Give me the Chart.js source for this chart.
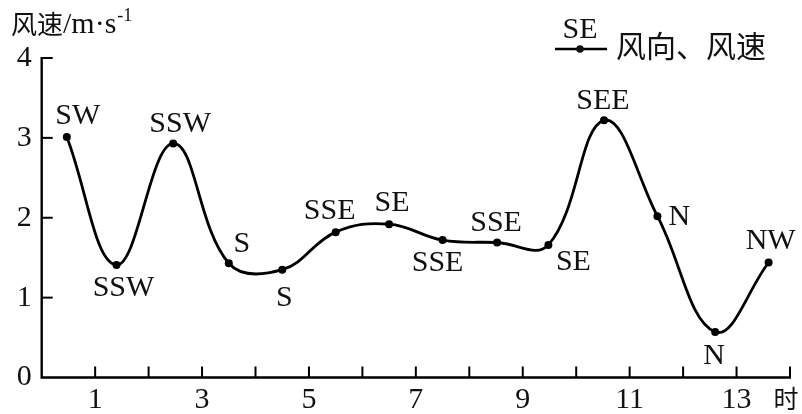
<!DOCTYPE html>
<html><head><meta charset="utf-8">
<script src="https://cdn.jsdelivr.net/npm/chart.js@4.4.1/dist/chart.umd.min.js"></script>
<style>html,body{margin:0;padding:0;background:#fff}#wrap{width:802px;height:414px}</style>
</head><body><div id="wrap"><canvas id="c" width="802" height="414"></canvas></div>
<script>
const hours = [0.47, 1.4, 2.46, 3.5, 4.5, 5.5, 6.5, 7.5, 8.52, 9.48, 10.52, 11.52, 12.6, 13.6];
const speeds = [3.01, 1.41, 2.93, 1.43, 1.35, 1.82, 1.92, 1.72, 1.69, 1.66, 3.22, 2.02, 0.57, 1.44];
const directions = ['SW','SSW','SSW','S','S','SSE','SE','SSE','SSE','SE','SEE','N','N','NW'];
const xTickLabels = [1, 3, 5, 7, 9, 11, 13];
const yTickLabels = [0, 1, 2, 3, 4];
const xUnit = '时';
const legendText = '风向、风速';

// label placement (text centre offset from point, px)
const labelOffsets = [[11,-22],[7,22],[7,-20],[13,-20],[2,27],[-6,-22],[3,-22],[-5,22],[-1,-20],[25,16],[-1,-20],[22,0],[-1,23],[2,-22]];

const SERIF = '"Liberation Serif", "DejaVu Serif", serif';
const CJK = '"Noto Sans CJK SC", sans-serif';

const decor = {
  id: 'decor',
  afterDraw(chart) {
    const ctx = chart.ctx;
    const xs = chart.scales.x, ys = chart.scales.y;
    const L = xs.left, R = xs.right, B = ys.bottom, T = ys.top;
    ctx.save();
    ctx.strokeStyle = '#000'; ctx.lineWidth = 2.4; ctx.lineCap = 'butt';
    ctx.beginPath();
    ctx.moveTo(L, T - 1); ctx.lineTo(L, B); ctx.lineTo(R + 1, B);
    ctx.stroke();
    // inward ticks
    ctx.lineWidth = 2;
    for (let v = 1; v <= 14; v++) {
      const px = xs.getPixelForValue(v);
      ctx.beginPath(); ctx.moveTo(px, B); ctx.lineTo(px, B - 11); ctx.stroke();
    }
    for (let v = 1; v <= 4; v++) {
      const py = ys.getPixelForValue(v);
      ctx.beginPath(); ctx.moveTo(L, py); ctx.lineTo(L + 11, py); ctx.stroke();
    }
    // direction labels
    const meta = chart.getDatasetMeta(0);
    ctx.fillStyle = '#111';
    ctx.font = '30px ' + SERIF;
    ctx.textAlign = 'center'; ctx.textBaseline = 'middle';
    meta.data.forEach((pt, i) => {
      const o = labelOffsets[i];
      ctx.fillText(directions[i], pt.x + o[0], pt.y + o[1] + 1);
    });
    // x unit
    ctx.font = '25px ' + CJK;
    ctx.fillText(xUnit, xs.getPixelForValue(14) - 4, 398);
    // y title
    ctx.textAlign = 'left'; ctx.textBaseline = 'alphabetic';
    ctx.font = '26px ' + CJK;
    ctx.fillText('风速', 11, 34);
    let x = 11 + ctx.measureText('风速').width;
    ctx.font = '30px ' + SERIF;
    ctx.fillText('/m·s', x, 33);
    x += ctx.measureText('/m·s').width + 1;
    ctx.font = '18px ' + SERIF;
    ctx.fillText('-1', x, 21);
    // legend
    ctx.lineWidth = 2.4;
    ctx.beginPath(); ctx.moveTo(555, 49); ctx.lineTo(607, 49); ctx.stroke();
    ctx.beginPath(); ctx.arc(580, 49, 3.8, 0, Math.PI * 2); ctx.fill();
    ctx.textAlign = 'center'; ctx.textBaseline = 'middle';
    ctx.font = '30px ' + SERIF;
    ctx.fillText('SE', 580, 30);
    ctx.textAlign = 'left';
    ctx.font = '30px ' + CJK;
    ctx.fillText(legendText, 616, 46);
    ctx.restore();
  }
};

new Chart(document.getElementById('c'), {
  type: 'line',
  data: {
    datasets: [{
      data: hours.map((h, i) => ({ x: h, y: speeds[i] })),
      borderColor: '#000',
      backgroundColor: '#000',
      borderWidth: 2.8,
      pointRadius: 4,
      pointHoverRadius: 4,
      pointBackgroundColor: '#000',
      pointBorderWidth: 0,
      tension: 0.4,
      fill: false
    }]
  },
  options: {
    responsive: false,
    animation: false,
    events: [],
    layout: { padding: { left: 0, top: 58, right: 12, bottom: 0 } },
    plugins: { legend: { display: false }, tooltip: { enabled: false } },
    scales: {
      x: {
        type: 'linear', min: 0, max: 14,
        grid: { display: false, drawTicks: false },
        border: { display: false },
        afterFit(s) { s.height = 36.5; },
        afterBuildTicks(s) { s.ticks = xTickLabels.map(v => ({ value: v })); },
        ticks: {
          autoSkip: false, maxRotation: 0, padding: 5, color: '#111',
          font: { family: SERIF, size: 30 },
          callback: v => String(v)
        }
      },
      y: {
        type: 'linear', min: 0, max: 4,
        grid: { display: false, drawTicks: false },
        border: { display: false },
        afterFit(s) { s.width = 41.7; },
        afterBuildTicks(s) { s.ticks = yTickLabels.map(v => ({ value: v })); },
        ticks: {
          padding: 10, color: '#111',
          font: { family: SERIF, size: 30 },
          callback: v => String(v)
        }
      }
    }
  },
  plugins: [decor]
});
</script></body></html>
